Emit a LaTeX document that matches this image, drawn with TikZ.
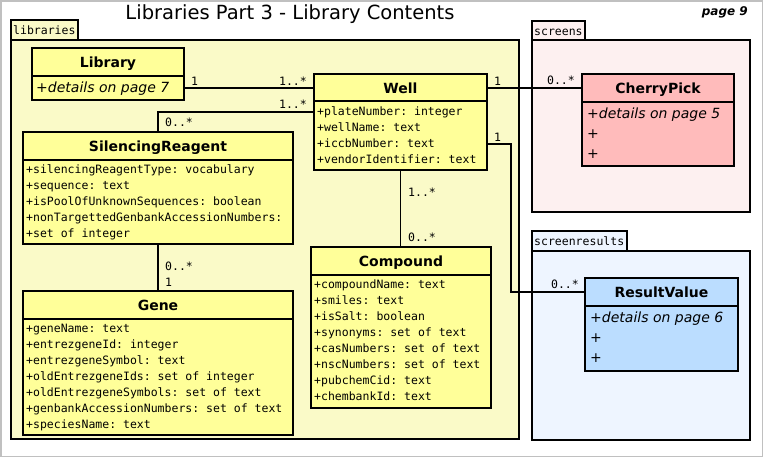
\documentclass[tikz,border=0pt]{standalone}
\usepackage{fontspec}
\setmainfont{DejaVu Sans}
\setmonofont{DejaVu Sans Mono}
\usetikzlibrary{fit}
\definecolor{clsyellow}{HTML}{FFFF99}
\definecolor{clspink}{HTML}{FFBBBB}
\definecolor{clsblue}{HTML}{BBDDFF}
\definecolor{libbg}{HTML}{FAFAC8}
\definecolor{scrbg}{HTML}{FDF0F0}
\definecolor{resbg}{HTML}{EEF5FF}
\definecolor{framegray}{HTML}{C0C0C0}
\tikzset{
  classbox/.style={draw=black, line width=1.6pt, inner sep=0pt, outer sep=0pt},
  pkgbox/.style={draw=black, line width=1.8pt, inner sep=0pt, outer sep=0pt},
  sepline/.style={line width=1.6pt},
  attr/.style={anchor=base west, inner sep=0pt, font=\fontsize{11.5}{13}\selectfont\ttfamily},
  iattr/.style={anchor=base west, inner sep=0pt, font=\fontsize{14}{16}\selectfont\itshape},
  ctitle/.style={anchor=base, inner sep=0pt, font=\fontsize{14}{16}\selectfont\bfseries},
  mult/.style={inner sep=0pt, font=\fontsize{11.5}{13}\selectfont\ttfamily},
  tablabel/.style={anchor=base west, inner sep=0pt, font=\fontsize{11.5}{13}\selectfont\ttfamily},
  conn/.style={line width=1.4pt},
}
\newcommand\umlcls[8]{%
  \node[classbox, fill=#7, fit={(#2,#3) (#4,#5)}] (#1) {};
  \draw[sepline] (#1.west |- 0,#6) -- (#1.east |- 0,#6);
  \node[ctitle] (#1-title) at ({(#2+#4)/2},{(#3+#6)/2+5.5}) {#8};
}
\begin{document}
\begin{tikzpicture}[x=1pt,y=-1pt]
\useasboundingbox (0,0) rectangle (764,458);
\node[draw=framegray, line width=1.5pt, inner sep=0pt, fit={(1,1) (762.5,456.5)}] (frame) {};

% title
\node[anchor=base, inner sep=0pt, font=\fontsize{19.5}{22}\selectfont] (title) at (290,19.5) {Libraries Part 3 - Library Contents};
\node[anchor=base east, inner sep=0pt, font=\fontsize{12}{14}\selectfont\bfseries\itshape] (page) at (748,15.5) {page 9};

% packages
\node[pkgbox, fill=libbg, fit={(11,20) (78,40)}] (libtab) {};
\node[pkgbox, fill=libbg, fit={(11,40) (519,439)}] (libpkg) {};
\node[tablabel] (libtab-t) at (13,34.5) {libraries};

\node[pkgbox, fill=scrbg, fit={(532,21) (585,40)}] (scrtab) {};
\node[pkgbox, fill=scrbg, fit={(532,40) (750,212)}] (scrpkg) {};
\node[tablabel] (scrtab-t) at (534,35.5) {screens};

\node[pkgbox, fill=resbg, fit={(532,231) (627,251)}] (restab) {};
\node[pkgbox, fill=resbg, fit={(532,251) (750,440)}] (respkg) {};
\node[tablabel] (restab-t) at (534,245.5) {screenresults};

% classes
\umlcls{Library}{32}{48}{184}{100}{76}{clsyellow}{Library}
\umlcls{Well}{314}{74}{487}{170}{101}{clsyellow}{Well}
\umlcls{SilencingReagent}{23}{132}{293}{244}{160}{clsyellow}{SilencingReagent}
\umlcls{Gene}{23}{291}{293}{435}{319}{clsyellow}{Gene}
\umlcls{Compound}{311}{247}{491}{408}{275}{clsyellow}{Compound}
\umlcls{CherryPick}{582}{74}{734}{166}{102}{clspink}{CherryPick}
\umlcls{ResultValue}{585}{278}{738}{371}{306}{clsblue}{ResultValue}

% connectors
\draw[conn] (Library.east |- 0,88) -- (Well.west |- 0,88);
\draw[conn] (Well.west |- 0,112) -| (SilencingReagent.north);
\draw[conn] (SilencingReagent.south) -- (Gene.north);
\draw[conn] (Well.south) -- (Well.south |- Compound.north);
\draw[conn] (Well.east |- 0,88) -- (CherryPick.west |- 0,88);
\draw[conn] (Well.east |- 0,144) -- ++(24,0) |- (ResultValue.west |- 0,292);

% multiplicities
\node[mult, anchor=base west] (m-lib) at (191,85) {1};
\node[mult, anchor=base east] (m-well1) at (307,85) {1..*};
\node[mult, anchor=base east] (m-well2) at (307,108) {1..*};
\node[mult, anchor=base west] (m-sr1) at (165,126) {0..*};
\node[mult, anchor=base west] (m-sr2) at (165,270) {0..*};
\node[mult, anchor=base west] (m-gene) at (165,286) {1};
\node[mult, anchor=base west] (m-wc) at (408,196) {1..*};
\node[mult, anchor=base west] (m-comp) at (408,241) {0..*};
\node[mult, anchor=base west] (m-wcp) at (494,85) {1};
\node[mult, anchor=base west] (m-wrv) at (494,141) {1};
\node[mult, anchor=base east] (m-cp) at (575,84) {0..*};
\node[mult, anchor=base east] (m-rv) at (579,288) {0..*};

% attributes
\node[iattr] (Library-a1) at (36,92) {+details on page 7};

\node[attr] (Well-a1) at (317,115) {+plateNumber: integer};
\node[attr] (Well-a2) at (317,131) {+wellName: text};
\node[attr] (Well-a3) at (317,147) {+iccbNumber: text};
\node[attr] (Well-a4) at (317,163) {+vendorIdentifier: text};

\node[attr] (SR-a1) at (26,173) {+silencingReagentType: vocabulary};
\node[attr] (SR-a2) at (26,189) {+sequence: text};
\node[attr] (SR-a3) at (26,205) {+isPoolOfUnknownSequences: boolean};
\node[attr] (SR-a4) at (26,221) {+nonTargettedGenbankAccessionNumbers:};
\node[attr] (SR-a5) at (26,237) {+set of integer};

\node[attr] (Gene-a1) at (26,332) {+geneName: text};
\node[attr] (Gene-a2) at (26,348) {+entrezgeneId: integer};
\node[attr] (Gene-a3) at (26,364) {+entrezgeneSymbol: text};
\node[attr] (Gene-a4) at (26,380) {+oldEntrezgeneIds: set of integer};
\node[attr] (Gene-a5) at (26,396) {+oldEntrezgeneSymbols: set of text};
\node[attr] (Gene-a6) at (26,412) {+genbankAccessionNumbers: set of text};
\node[attr] (Gene-a7) at (26,428) {+speciesName: text};

\node[attr] (Comp-a1) at (314,288) {+compoundName: text};
\node[attr] (Comp-a2) at (314,304) {+smiles: text};
\node[attr] (Comp-a3) at (314,320) {+isSalt: boolean};
\node[attr] (Comp-a4) at (314,336) {+synonyms: set of text};
\node[attr] (Comp-a5) at (314,352) {+casNumbers: set of text};
\node[attr] (Comp-a6) at (314,368) {+nscNumbers: set of text};
\node[attr] (Comp-a7) at (314,384) {+pubchemCid: text};
\node[attr] (Comp-a8) at (314,400) {+chembankId: text};

\node[iattr] (CP-a1) at (587,118) {+details on page 5};
\node[iattr] (CP-a2) at (587,138) {+};
\node[iattr] (CP-a3) at (587,158) {+};

\node[iattr] (RV-a1) at (590,322) {+details on page 6};
\node[iattr] (RV-a2) at (590,342) {+};
\node[iattr] (RV-a3) at (590,362) {+};
\end{tikzpicture}
\end{document}
